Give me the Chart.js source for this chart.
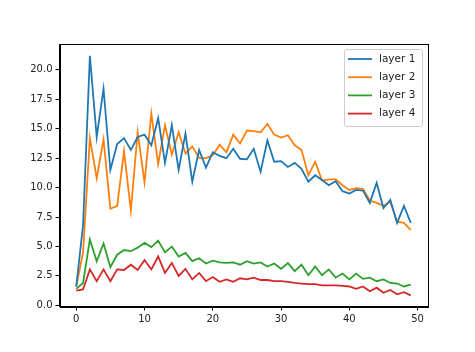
<!DOCTYPE html>
<html>
<head>
<meta charset="utf-8">
<script src="https://cdn.jsdelivr.net/npm/chart.js@4/dist/chart.umd.min.js"></script>
<style>
  html, body { margin: 0; padding: 0; background: #fff; }
  #wrap { width: 475px; height: 352px; }
</style>
</head>
<body>
<div id="wrap"><canvas id="chart" width="475" height="352"></canvas></div>
<script>
var steps = [];
for (var i = 0; i < 50; i++) steps.push(i);

var seriesNames = ['layer 1', 'layer 2', 'layer 3', 'layer 4'];
var seriesColors = ['#1f77b4', '#ff7f0e', '#2ca02c', '#d62728'];

var layer1 = [1.6, 6.8, 21.2, 14.3, 18.4, 11.5, 13.7, 14.2, 13.2, 14.3,
              14.5, 13.6, 15.9, 12.1, 15.3, 11.5, 14.6, 10.5, 13.2, 11.7,
              13.0, 12.7, 12.5, 13.3, 12.45, 12.4, 13.3, 11.35, 14.0, 12.2,
              12.25, 11.75, 12.1, 11.6, 10.5, 11.05, 10.65, 10.2, 10.55, 9.7,
              9.5, 9.8, 9.75, 8.7, 10.4, 8.25, 8.95, 7.0, 8.45, 7.0];
var layer2 = [1.6, 4.5, 14.2, 10.8, 14.1, 8.2, 8.45, 13.1, 8.05, 14.7,
              10.45, 16.3, 12.0, 15.3, 12.8, 14.7, 12.9, 13.5, 12.5, 12.5,
              12.75, 13.65, 13.0, 14.5, 13.75, 14.85, 14.8, 14.7, 15.4, 14.5,
              14.25, 14.45, 13.6, 13.2, 11.05, 12.2, 10.6, 10.7, 10.7, 10.2,
              9.8, 9.95, 9.9, 8.9, 8.7, 8.45, 8.8, 7.1, 7.0, 6.4];
var layer3 = [1.4, 1.9, 5.6, 3.75, 5.25, 3.25, 4.3, 4.7, 4.6, 4.9,
              5.3, 4.95, 5.5, 4.5, 5.0, 4.15, 4.45, 3.75, 4.0, 3.55,
              3.8, 3.65, 3.6, 3.65, 3.45, 3.75, 3.55, 3.65, 3.3, 3.55,
              3.1, 3.6, 2.9, 3.45, 2.55, 3.3, 2.55, 3.05, 2.35, 2.7,
              2.2, 2.7, 2.25, 2.35, 2.05, 2.2, 1.9, 1.85, 1.6, 1.75];
var layer4 = [1.25, 1.35, 3.05, 2.05, 3.05, 2.05, 3.05, 3.0, 3.45, 3.0,
              3.85, 3.05, 4.15, 2.75, 3.6, 2.5, 3.1, 2.2, 2.75, 2.05,
              2.4, 2.0, 2.2, 2.0, 2.3, 2.2, 2.35, 2.15, 2.15, 2.05,
              2.05, 2.0, 1.9, 1.85, 1.8, 1.8, 1.7, 1.7, 1.7, 1.65,
              1.6, 1.4, 1.6, 1.2, 1.5, 1.07, 1.3, 0.93, 1.12, 0.85];

var xTicks = [0, 10, 20, 30, 40, 50];
var yTicks = [0, 2.5, 5, 7.5, 10, 12.5, 15, 17.5, 20];

var allSeries = [layer1, layer2, layer3, layer4];
var tickFont = { family: 'DejaVu Sans', size: 10 };

// frame on all four sides plus a matplotlib style legend box
var frameAndLegend = {
  id: 'frameAndLegend',
  afterDraw: function(chart) {
    var ctx = chart.ctx, a = chart.chartArea;
    ctx.save();
    ctx.strokeStyle = '#000';
    ctx.lineWidth = 1;
    ctx.strokeRect(Math.round(a.left) + 0.5, Math.round(a.top) + 0.5,
                   Math.round(a.right - a.left), Math.round(a.bottom - a.top));

    var bx = 344.5, by = 49.5, bw = 78, bh = 77, r = 2.5;
    ctx.beginPath();
    ctx.moveTo(bx + r, by);
    ctx.arcTo(bx + bw, by, bx + bw, by + bh, r);
    ctx.arcTo(bx + bw, by + bh, bx, by + bh, r);
    ctx.arcTo(bx, by + bh, bx, by, r);
    ctx.arcTo(bx, by, bx + bw, by, r);
    ctx.closePath();
    ctx.fillStyle = 'rgba(255,255,255,0.8)';
    ctx.fill();
    ctx.strokeStyle = '#cccccc';
    ctx.stroke();

    ctx.font = '10.5px "DejaVu Sans"';
    ctx.textBaseline = 'middle';
    chart.data.datasets.forEach(function(ds, k) {
      var y = 59 + k * 18.2;
      ctx.strokeStyle = ds.borderColor;
      ctx.lineWidth = 1.8;
      ctx.beginPath();
      ctx.moveTo(348, y);
      ctx.lineTo(372, y);
      ctx.stroke();
      ctx.fillStyle = '#222';
      ctx.fillText(ds.label, 379, y);
    });
    ctx.restore();
  }
};

var chart = new Chart(document.getElementById('chart'), {
  type: 'line',
  data: {
    datasets: allSeries.map(function(vals, k) {
      return {
        label: seriesNames[k],
        data: vals.map(function(v, i) { return { x: steps[i], y: v }; }),
        borderColor: seriesColors[k],
        backgroundColor: seriesColors[k],
        borderWidth: 1.8,
        pointRadius: 0,
        tension: 0,
        fill: false
      };
    })
  },
  options: {
    responsive: false,
    animation: false,
    layout: { padding: { top: 44, right: 47.5, left: 0, bottom: 0 } },
    plugins: { legend: { display: false }, tooltip: { enabled: false } },
    scales: {
      x: {
        type: 'linear',
        min: -2.45,
        max: 51.45,
        afterBuildTicks: function(scale) {
          scale.ticks = xTicks.map(function(v) { return { value: v }; });
        },
        afterFit: function(scale) { scale.height = 45.5; },
        grid: { drawOnChartArea: false, tickLength: 4, color: '#000' },
        border: { color: '#000', width: 1 },
        ticks: { color: '#222', font: tickFont, padding: 3, maxRotation: 0,
                 callback: function(v) { return String(v); } }
      },
      y: {
        min: -0.1,
        max: 22.2,
        afterBuildTicks: function(scale) {
          scale.ticks = yTicks.map(function(v) { return { value: v }; });
        },
        afterFit: function(scale) { scale.width = 59.5; },
        grid: { drawOnChartArea: false, tickLength: 4, color: '#000' },
        border: { color: '#000', width: 1 },
        ticks: { color: '#222', font: tickFont, padding: 3,
                 callback: function(v) { return v.toFixed(1); } }
      }
    }
  },
  plugins: [frameAndLegend]
});
</script>
</body>
</html>
